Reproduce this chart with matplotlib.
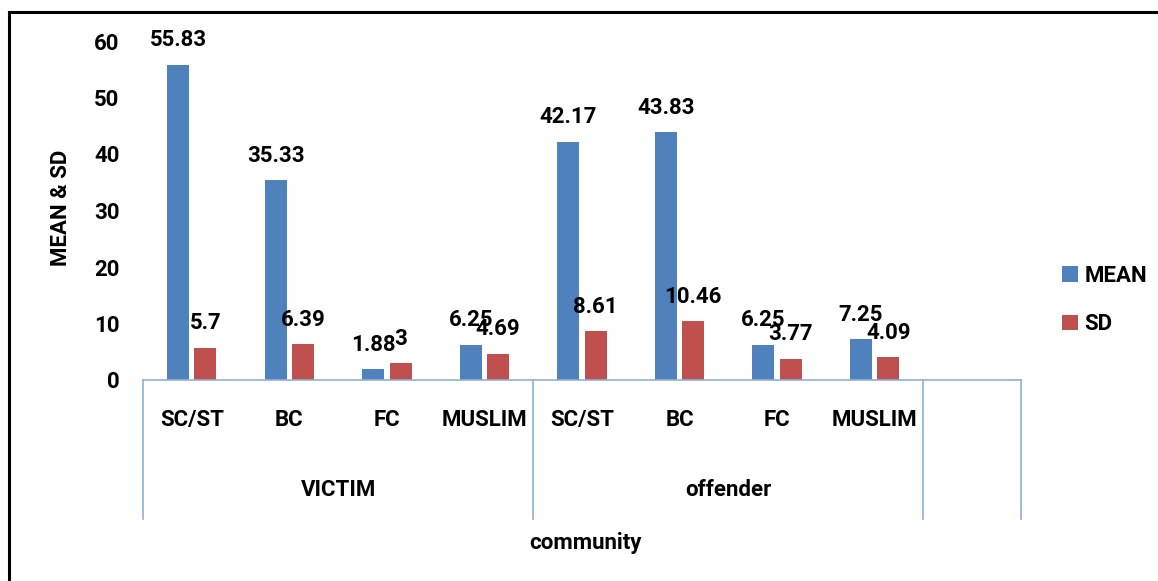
import matplotlib
matplotlib.use("Agg")
import matplotlib.pyplot as plt
import matplotlib.transforms as mtransforms
import numpy as np

# %%
groups = ["VICTIM", "offender"]
communities = ["SC/ST", "BC", "FC", "MUSLIM"]
mean_vals = [55.83, 35.33, 1.88, 6.25, 42.17, 43.83, 6.25, 7.25]
sd_vals = [5.7, 6.39, 3, 4.69, 8.61, 10.46, 3.77, 4.09]
yticks = [0, 10, 20, 30, 40, 50, 60]

BLUE = "#4f81bd"
RED = "#c0504d"
AXIS = "#8eb0dc"
FONT = "Roboto"
FS = 16

plt.rcParams["font.family"] = [FONT, "DejaVu Sans"]
plt.rcParams["font.weight"] = "bold"

W, H = 1158, 581
fig = plt.figure(figsize=(W / 100, H / 100), dpi=100)
ax = fig.add_axes([143 / W, 1 - 380 / H, (1021 - 143) / W, (380 - 41) / H])

n_slots = len(mean_vals) + 1
x = np.arange(len(mean_vals))
bw = 0.225
off = 0.14
b1 = ax.bar(x - off, mean_vals, bw, color=BLUE, label="MEAN", zorder=2)
b2 = ax.bar(x + off, sd_vals, bw, color=RED, label="SD", zorder=2)

for bars, vals in ((b1, mean_vals), (b2, sd_vals)):
    for rect, v in zip(bars, vals):
        ax.annotate(f"{v:g}", (rect.get_x() + rect.get_width() / 2, v),
                    xytext=(0, 17.5), textcoords="offset points",
                    ha="center", va="center", fontsize=FS, fontweight="bold",
                    zorder=3)

ax.set_xlim(-0.5, n_slots - 0.5)
ax.set_ylim(0, 60)
ax.set_yticks(yticks)
ax.set_yticklabels([str(t) for t in yticks], fontsize=FS, fontweight="bold")
ax.tick_params(axis="y", length=0, pad=17)
ax.set_xticks([])
for s in ("left", "top", "right"):
    ax.spines[s].set_visible(False)
ax.spines["bottom"].set_color(AXIS)
ax.spines["bottom"].set_linewidth(1.2)

# multi-level category axis
trans = mtransforms.blended_transform_factory(ax.transData, ax.transAxes)
line_bottom = -(519 - 380) / (380 - 41)
for xb in (-0.5, 3.5, 7.5, 8.5):
    ax.plot([xb, xb], [0, line_bottom], color=AXIS, lw=1.2,
            transform=trans, clip_on=False)
for i in range(len(mean_vals)):
    ax.text(i, -40 / 339, communities[i % 4], transform=trans,
            ha="center", va="center", fontsize=FS, fontweight="bold")
for g, name in enumerate(groups):
    ax.text(g * 4 + 1.5, -110 / 339, name, transform=trans,
            ha="center", va="center", fontsize=FS, fontweight="bold")

fig.text(585 / W, 1 - 543 / H, "community", ha="center", va="center",
         fontsize=FS, fontweight="bold")
fig.text(61 / W, 1 - 208 / H, "MEAN & SD", ha="center", va="center",
         rotation=90, fontsize=FS, fontweight="bold")

fig.legend(handles=[b1, b2], loc="center left",
           bbox_to_anchor=(1062 / W, 1 - 300 / H), frameon=False,
           borderpad=0, borderaxespad=0,
           handlelength=0.7, handleheight=0.7,
           handletextpad=0.3, labelspacing=1.2,
           prop={"weight": "bold", "size": FS, "family": [FONT, "DejaVu Sans"]})

# outer frame (top and left edges only visible)
fig.add_artist(plt.Line2D([9 / W, 1], [1 - 12 / H, 1 - 12 / H], color="black", lw=2.2))
fig.add_artist(plt.Line2D([9 / W, 9 / W], [0, 1 - 12 / H], color="black", lw=2.2))

fig.savefig("out.png", dpi=100)
